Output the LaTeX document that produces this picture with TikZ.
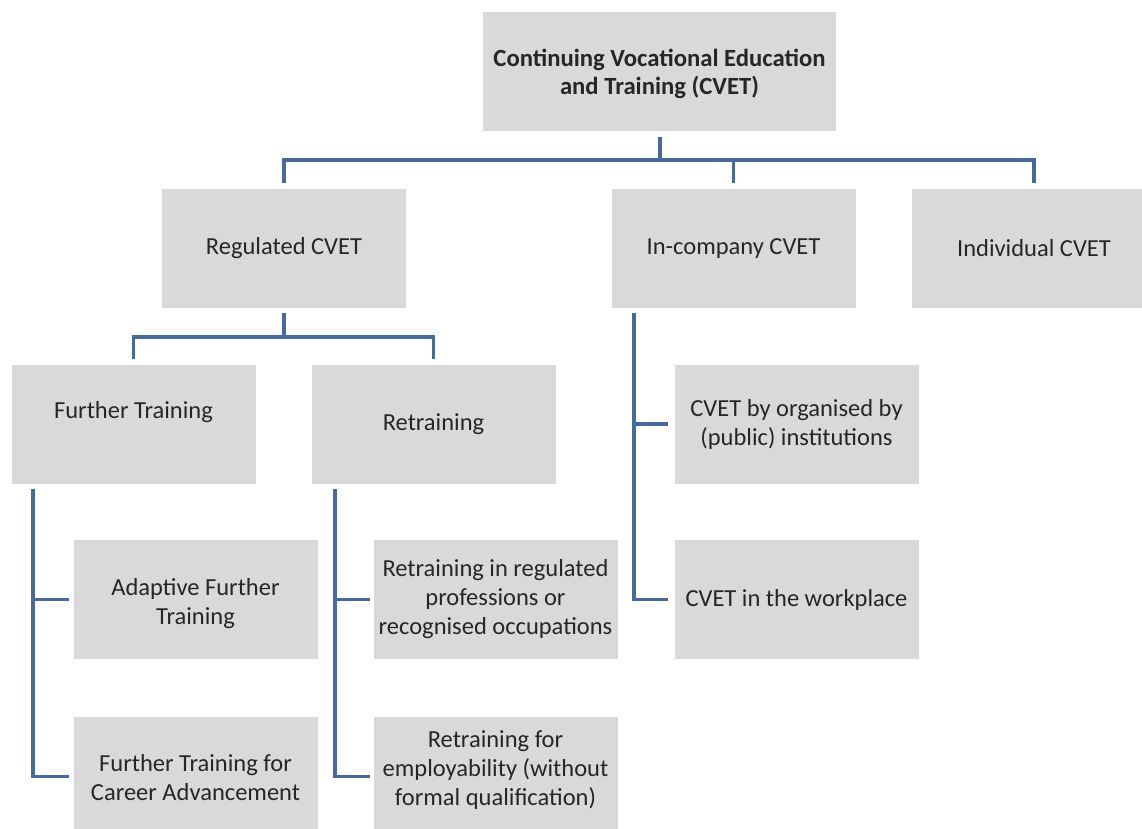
\documentclass[tikz,border=0pt]{standalone}
\usepackage{fontspec}
\setmainfont{Carlito}
\definecolor{boxfill}{HTML}{D9D9D9}
\definecolor{linecol}{HTML}{46699E}
\definecolor{txtcol}{HTML}{262626}
\begin{document}
\begin{tikzpicture}[x=1pt,y=-1pt,
  box/.style={rectangle, fill=boxfill, inner sep=0pt, minimum width=244pt, minimum height=119pt,
    align=center, text=txtcol, font=\fontsize{24.5}{29}\selectfont},
  conn/.style={draw=linecol, line width=3.2pt, line join=miter}]
\useasboundingbox (0,0) rectangle (1142,829);
\fill[white] (0,0) rectangle (1142,829);
% nodes
\node[box, minimum width=353pt, font=\fontsize{24.7}{28}\selectfont\bfseries] (top) at (659.5,72) {\rule{0pt}{22pt}Continuing Vocational Education\\and Training (CVET)};
\node[box] (reg) at (284,248.5) {Regulated CVET};
\node[box] (inc) at (733.5,248.5) {In-company CVET};
\node[box] (ind) at (1034,248.5) {Individual CVET};
\node[box] (ft) at (133.5,424) {Further Training\\[-1pt]\mbox{}};
\node[box] (rt) at (433.5,424) {Retraining};
\node[box] (ada) at (195.5,599.5) {\rule{0pt}{25pt}Adaptive Further\\Training};
\node[box] (car) at (195.5,776.5) {\mbox{}\\[-10pt]Further Training for\\Career Advancement};
\node[box] (rreg) at (495.5,599.5) {Retraining in regulated\\professions or\\recognised occupations};
\node[box] (remp) at (495.5,776.5) {Retraining for\\employability (without\\formal qualification)\\[-12pt]\mbox{}};
\node[box] (org) at (796.5,424) {CVET by organised by\\(public) institutions};
\node[box] (wp) at (796.5,599.5) {CVET in the workplace};
% junction coordinates
\coordinate (h1) at (660,160);
\coordinate (h2) at (284,337);
\coordinate (v1) at (33,600);
\coordinate (v2) at (335,600);
\coordinate (v3) at (634,600);
% top level connectors
\draw[conn, shorten <=5pt] (h1 |- top.south) -- (h1);
\draw[conn, shorten <=6pt, shorten >=6pt] (reg.north) -- (reg.north |- h1) -- (ind.north |- h1) -- (ind.north);
\draw[conn, shorten >=6pt] (inc.north |- h1) -- (inc.north);
% regulated
\draw[conn, shorten <=5pt] (reg.south) -- (h2);
\draw[conn, shorten <=5pt, shorten >=5pt] (ft.north) -- (ft.north |- h2) -- (rt.north |- h2) -- (rt.north);
% further training
\draw[conn, shorten <=5pt, shorten >=4pt] (v1 |- ft.south) -- (v1 |- car.west) -- (car.west);
\draw[conn, shorten >=4pt] (v1 |- ada.west) -- (ada.west);
% retraining
\draw[conn, shorten <=5pt, shorten >=3pt] (v2 |- rt.south) -- (v2 |- remp.west) -- (remp.west);
\draw[conn, shorten >=3pt] (v2 |- rreg.west) -- (rreg.west);
% in-company
\draw[conn, shorten <=5pt, shorten >=6pt] (v3 |- inc.south) -- (v3 |- wp.west) -- (wp.west);
\draw[conn, shorten >=6pt] (v3 |- org.west) -- (org.west);
\end{tikzpicture}
\end{document}
